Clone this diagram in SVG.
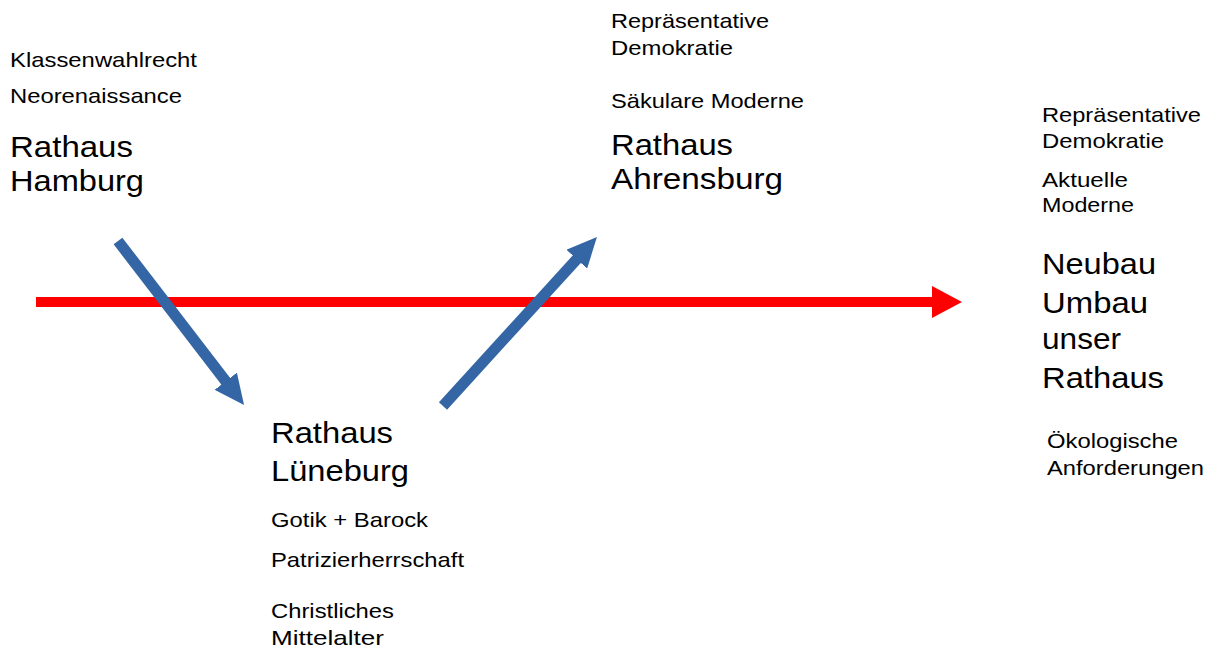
<svg xmlns="http://www.w3.org/2000/svg" width="1217" height="652" viewBox="0 0 1217 652">
  <style>
    text { font-family: "Liberation Sans", Arial, sans-serif; fill: #000; }
    .s { font-size: 21px; }
    .b { font-size: 30px; }
    .blue { stroke: #3465a4; stroke-width: 11; fill: none; }
    .red { stroke: #ff0000; stroke-width: 10; fill: none; }
  </style>
  <defs>
    <marker id="headBlue" viewBox="0 0 30 28" refX="2" refY="14" markerWidth="30" markerHeight="28" markerUnits="userSpaceOnUse" orient="auto">
      <path d="M0,0 L30,14 L0,28 z" fill="#3465a4"/>
    </marker>
    <marker id="headRed" viewBox="0 0 30 32" refX="2" refY="16" markerWidth="30" markerHeight="32" markerUnits="userSpaceOnUse" orient="auto">
      <path d="M0,0 L30,16 L0,32 z" fill="#ff0000"/>
    </marker>
  </defs>
  <rect width="1217" height="652" fill="#fff"/>

  <g id="connectors">
    <line class="red" x1="36" y1="302" x2="934" y2="302" marker-end="url(#headRed)"/>
    <line class="blue" x1="118" y1="241" x2="227" y2="382.8" marker-end="url(#headBlue)"/>
    <line class="blue" x1="443" y1="406" x2="578.1" y2="257.7" marker-end="url(#headBlue)"/>
  </g>

  <g id="hamburg">
    <text class="s" x="10" y="67" textLength="187" lengthAdjust="spacingAndGlyphs">Klassenwahlrecht</text>
    <text class="s" x="10" y="103" textLength="172" lengthAdjust="spacingAndGlyphs">Neorenaissance</text>
    <text class="b" x="10" y="157" textLength="123" lengthAdjust="spacingAndGlyphs">Rathaus</text>
    <text class="b" x="10" y="191" textLength="134" lengthAdjust="spacingAndGlyphs">Hamburg</text>
  </g>

  <g id="ahrensburg">
    <text class="s" x="611" y="28" textLength="158" lengthAdjust="spacingAndGlyphs">Repräsentative</text>
    <text class="s" x="611" y="55" textLength="122" lengthAdjust="spacingAndGlyphs">Demokratie</text>
    <text class="s" x="611" y="108" textLength="193" lengthAdjust="spacingAndGlyphs">Säkulare Moderne</text>
    <text class="b" x="611" y="155" textLength="122" lengthAdjust="spacingAndGlyphs">Rathaus</text>
    <text class="b" x="611" y="189" textLength="172" lengthAdjust="spacingAndGlyphs">Ahrensburg</text>
  </g>

  <g id="lueneburg">
    <text class="b" x="271" y="443" textLength="122" lengthAdjust="spacingAndGlyphs">Rathaus</text>
    <text class="b" x="271" y="481" textLength="138" lengthAdjust="spacingAndGlyphs">Lüneburg</text>
    <text class="s" x="271" y="527" textLength="157" lengthAdjust="spacingAndGlyphs">Gotik + Barock</text>
    <text class="s" x="271" y="567" textLength="193" lengthAdjust="spacingAndGlyphs">Patrizierherrschaft</text>
    <text class="s" x="271" y="618" textLength="123" lengthAdjust="spacingAndGlyphs">Christliches</text>
    <text class="s" x="271" y="645" textLength="113" lengthAdjust="spacingAndGlyphs">Mittelalter</text>
  </g>

  <g id="neubau">
    <text class="s" x="1042" y="122" textLength="159" lengthAdjust="spacingAndGlyphs">Repräsentative</text>
    <text class="s" x="1042" y="148" textLength="122" lengthAdjust="spacingAndGlyphs">Demokratie</text>
    <text class="s" x="1042" y="187" textLength="86" lengthAdjust="spacingAndGlyphs">Aktuelle</text>
    <text class="s" x="1042" y="212" textLength="92" lengthAdjust="spacingAndGlyphs">Moderne</text>
    <text class="b" x="1042" y="274" textLength="114" lengthAdjust="spacingAndGlyphs">Neubau</text>
    <text class="b" x="1042" y="313" textLength="106" lengthAdjust="spacingAndGlyphs">Umbau</text>
    <text class="b" x="1042" y="349" textLength="79" lengthAdjust="spacingAndGlyphs">unser</text>
    <text class="b" x="1042" y="388" textLength="122" lengthAdjust="spacingAndGlyphs">Rathaus</text>
    <text class="s" x="1047" y="448" textLength="131" lengthAdjust="spacingAndGlyphs">Ökologische</text>
    <text class="s" x="1047" y="475" textLength="157" lengthAdjust="spacingAndGlyphs">Anforderungen</text>
  </g>
</svg>
